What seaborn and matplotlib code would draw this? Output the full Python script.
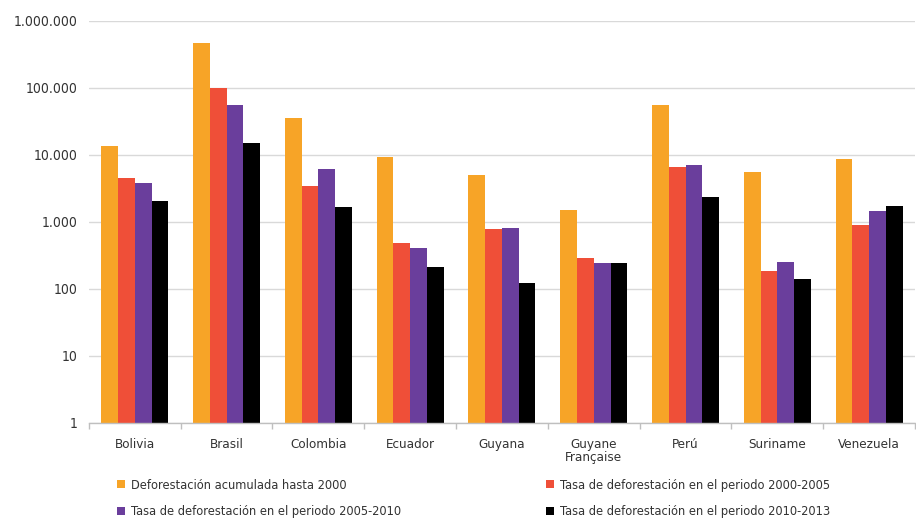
import matplotlib
matplotlib.use("Agg")
import matplotlib.pyplot as plt
from matplotlib.ticker import FixedLocator, FuncFormatter, NullLocator
from matplotlib.patches import Patch
import seaborn as sns
import pandas as pd

paises = ["Bolivia", "Brasil", "Colombia", "Ecuador", "Guyana",
          "Guyane\nFrançaise", "Perú", "Suriname", "Venezuela"]

series = [
    "Deforestación acumulada hasta 2000",
    "Tasa de deforestación en el periodo 2000-2005",
    "Tasa de deforestación en el periodo 2005-2010",
    "Tasa de deforestación en el periodo 2010-2013",
]

acumulada_2000 = [13500, 470000, 35500, 9300, 5000, 1500, 56000, 5600, 8700]
tasa_2000_2005 = [4500, 100000, 3400, 480, 790, 290, 6600, 186, 900]
tasa_2005_2010 = [3800, 56000, 6200, 410, 810, 245, 7100, 252, 1450]
tasa_2010_2013 = [2050, 15000, 1650, 213, 123, 245, 2350, 141, 1740]

colores = ["#F7A427", "#EF4F38", "#6A3E9C", "#000000"]

valores = [acumulada_2000, tasa_2000_2005, tasa_2005_2010, tasa_2010_2013]
df = pd.DataFrame([
    {"pais": p, "serie": s, "valor": v}
    for s, vals in zip(series, valores)
    for p, v in zip(paises, vals)
])

sns.set_theme(style="white")
plt.rcParams["font.family"] = ["DejaVu Sans"]
plt.rcParams["font.stretch"] = "condensed"

fig = plt.figure(figsize=(9.16, 5.22), dpi=100)
ax = fig.add_axes([0.097, 0.19, 0.902, 0.77])

sns.barplot(data=df, x="pais", y="valor", hue="serie", order=paises,
            hue_order=series, palette=colores, width=0.73, saturation=1,
            linewidth=0, legend=False, ax=ax)

ax.set_yscale("log")
ax.set_ylim(1, 1e6)
ax.set_xlim(-0.5, len(paises) - 0.5)
ticks_y = [1, 10, 100, 1000, 10000, 100000, 1000000]
ax.yaxis.set_major_locator(FixedLocator(ticks_y))
ax.yaxis.set_minor_locator(NullLocator())
ax.yaxis.set_major_formatter(FuncFormatter(lambda v, _: f"{int(round(v)):,}".replace(",", ".")))
ax.grid(axis="y", color="#D9D9D9", linewidth=1)
ax.set_axisbelow(True)

for lado in ["top", "right", "left"]:
    ax.spines[lado].set_visible(False)
ax.spines["bottom"].set_color("#BFBFBF")
ax.spines["bottom"].set_linewidth(1)

ax.set_xlabel("")
ax.set_ylabel("")
ax.tick_params(axis="y", length=0, labelsize=10, labelcolor="#333333", pad=8)
ax.tick_params(axis="x", which="major", length=0, labelsize=9.6, labelcolor="#333333", pad=11)
for etiqueta in ax.get_xticklabels():
    etiqueta.set_linespacing(1.0)
ax.xaxis.set_minor_locator(FixedLocator([i + 0.5 for i in range(-1, len(paises))]))
ax.tick_params(axis="x", which="minor", length=4, color="#BFBFBF", direction="out", bottom=True)

manijas = [Patch(facecolor=c, edgecolor="none") for c in colores]
estilo = dict(frameon=False, fontsize=9.2, handlelength=0.6, handleheight=0.6,
              handletextpad=0.5, labelspacing=1.05, labelcolor="#333333",
              borderaxespad=0, borderpad=0)
fig.legend([manijas[0], manijas[2]], [series[0], series[2]],
           loc="upper left", bbox_to_anchor=(0.128, 0.083), **estilo)
fig.legend([manijas[1], manijas[3]], [series[1], series[3]],
           loc="upper left", bbox_to_anchor=(0.596, 0.083), **estilo)

fig.savefig("out.png", dpi=100, facecolor="white")
